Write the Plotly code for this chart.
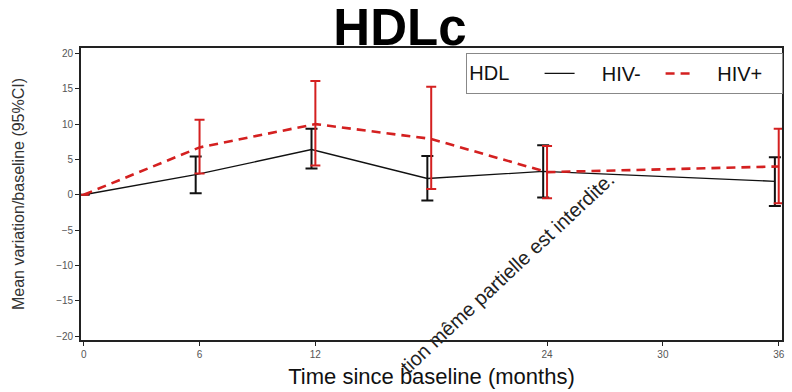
import plotly.graph_objects as go

# ---- data ----
months = [0, 6, 12, 18, 24, 36]
tick_vals = [0, 6, 12, 24, 30, 36]
y_ticks = [-20, -15, -10, -5, 0, 5, 10, 15, 20]

hiv_neg_mean = [0, 2.85, 6.4, 2.3, 3.3, 1.9]
hiv_neg_low = [0, 0.2, 3.7, -0.8, -0.4, -1.6]
hiv_neg_high = [0, 5.4, 9.35, 5.5, 7.0, 5.3]

hiv_pos_mean = [0, 6.7, 10.0, 7.9, 3.2, 4.0]
hiv_pos_low = [0, 3.0, 4.15, 0.8, -0.5, -1.2]
hiv_pos_high = [0, 10.6, 16.1, 15.3, 6.9, 9.35]

DODGE = 0.2  # small horizontal offset of HIV- points


def err(mean, low, high):
    plus = [h - m for m, h in zip(mean, high)]
    minus = [m - l for m, l in zip(mean, low)]
    return plus, minus


neg_plus, neg_minus = err(hiv_neg_mean, hiv_neg_low, hiv_neg_high)
pos_plus, pos_minus = err(hiv_pos_mean, hiv_pos_low, hiv_pos_high)
x_neg = [m - DODGE if m > 0 else m for m in months]

NB = "\u00a0"

fig = go.Figure()
fig.add_trace(go.Scatter(
    x=x_neg, y=hiv_neg_mean, mode="lines",
    name=NB * 4 + "HIV-",
    line=dict(color="#111111", width=1.3),
    error_y=dict(type="data", symmetric=False, array=neg_plus, arrayminus=neg_minus,
                 color="#111111", thickness=2, width=6),
))
fig.add_trace(go.Scatter(
    x=months, y=hiv_pos_mean, mode="lines",
    name=NB * 3 + "HIV+",
    line=dict(color="#d42020", width=2.6, dash="9px,6px"),
    error_y=dict(type="data", symmetric=False, array=pos_plus, arrayminus=pos_minus,
                 color="#d42020", thickness=2, width=5),
))

font_family = "Liberation Sans, Arial, sans-serif"

fig.update_layout(
    width=792, height=392,
    margin=dict(l=81, r=7, t=48, b=50),
    paper_bgcolor="white", plot_bgcolor="white",
    font=dict(family=font_family, color="#111111"),
    title=dict(text="<b>HDLc</b>", x=0.505, xanchor="center", y=0.93, yanchor="middle",
               font=dict(size=51, color="#000000", family=font_family)),
    showlegend=True,
    legend=dict(
        orientation="h", x=0.5497, xanchor="left", y=0.983, yanchor="top",
        bordercolor="#888888", borderwidth=1, bgcolor="white",
        font=dict(size=20, color="#111111"),
        title=dict(text="HDL" + NB * 4, font=dict(size=20, color="#111111")),
        entrywidth=76, entrywidthmode="pixels",
        itemclick=False,
    ),
    xaxis=dict(
        range=[-0.14, 36.17], tickmode="array", tickvals=tick_vals,
        ticks="outside", ticklen=4, tickwidth=1.2, tickcolor="#222222",
        tickfont=dict(size=10, color="#555555"),
        showline=True, linecolor="#222222", linewidth=1.8, mirror=True,
        showgrid=False, zeroline=False,
        title=dict(text="Time since baseline (months)", standoff=10,
                   font=dict(size=22, color="#111111")),
    ),
    yaxis=dict(
        range=[-20.56, 20.77], tickmode="array", tickvals=y_ticks,
        ticks="outside", ticklen=4, tickwidth=1.2, tickcolor="#222222",
        tickfont=dict(size=10, color="#555555"),
        showline=True, linecolor="#222222", linewidth=1.8, mirror=True,
        showgrid=False, zeroline=False,
        title=dict(text="Mean variation/baseline (95%CI)", standoff=28,
                   font=dict(size=16, color="#333333")),
    ),
)

fig.add_annotation(
    text="tion même partielle est interdite.",
    xref="paper", yref="paper", x=0.608, y=0.228,
    xanchor="center", yanchor="middle",
    showarrow=False, textangle=-43,
    font=dict(size=20, color="#222222", family=font_family),
)

fig.write_html("out.html")
